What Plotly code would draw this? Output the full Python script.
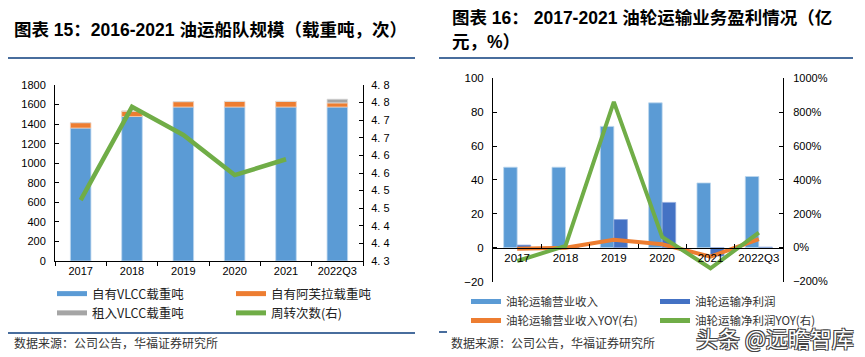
import plotly.graph_objects as go

# ---------------- data ----------------
cats = ["2017", "2018", "2019", "2020", "2021", "2022Q3"]
own_vlcc = [1360, 1478, 1575, 1575, 1575, 1575]
own_aframax = [55, 55, 55, 57, 57, 42]
chartered_vlcc = [0, 0, 0, 0, 0, 38]
turnover = [4.473, 4.738, 4.658, 4.544, 4.589, None]
right_ticks_vals = [4.30, 4.35, 4.40, 4.45, 4.50, 4.55, 4.60, 4.65, 4.70, 4.75, 4.80]
right_ticks_text = ["4. 3", "4. 4", "4. 4", "4. 5", "4. 5", "4. 6", "4. 6", "4. 7", "4. 7", "4. 8", "4. 8"]

revenue = [47.5, 47.5, 71.6, 85.5, 38.2, 42.0]
net_profit = [1.5, 0.4, 16.6, 26.7, -5.0, 0.3]
revenue_yoy = [-6, 0, 46, 20, -53, 50]
profit_yoy = [-79, 10, 861, 63, -122, 89]

FONT = "Liberation Sans, Arial, Noto Sans CJK SC, sans-serif"
CJK = "Noto Sans CJK SC, Liberation Sans, sans-serif"
BLUE = "#5B9BD5"
DBLUE = "#4472C4"
ORANGE = "#ED7D31"
GREY = "#A5A5A5"
GREEN = "#70AD47"
RULE = "#0B3D7D"

W, H = 865, 357
OFF = 8  # page body margin
def px(x): return (x - OFF) / W
def py(y): return 1 - (y - OFF) / H

fig = go.Figure()

# ---------- left panel ----------
base_orange = own_vlcc
base_grey = [a + b for a, b in zip(own_vlcc, own_aframax)]
fig.add_trace(go.Bar(x=cats, y=own_vlcc, width=0.4, marker=dict(color=BLUE, line=dict(color="#BDD7EE", width=0.8)),
                     xaxis="x", yaxis="y", showlegend=False))
fig.add_trace(go.Bar(x=cats, y=own_aframax, base=base_orange, width=0.4,
                     marker=dict(color=ORANGE, line=dict(color="#F8CBAD", width=0.8)),
                     xaxis="x", yaxis="y", showlegend=False))
fig.add_trace(go.Bar(x=cats, y=chartered_vlcc, base=base_grey, width=0.4,
                     marker=dict(color=GREY, line=dict(color="#DBDBDB", width=0.8)),
                     xaxis="x", yaxis="y", showlegend=False))
fig.add_trace(go.Scatter(x=cats, y=turnover, mode="lines", line=dict(color=GREEN, width=4.5),
                         xaxis="x", yaxis="y2", showlegend=False))

left_legend = [("自有VLCC载重吨", BLUE, "legend"), ("租入VLCC载重吨", GREY, "legend"),
               ("自有阿芙拉载重吨", ORANGE, "legend2"), ("周转次数(右)", GREEN, "legend2")]
for name, col, lg in left_legend:
    fig.add_trace(go.Scatter(x=[None], y=[None], mode="lines", name=name, line=dict(color=col, width=5),
                             xaxis="x", yaxis="y", legend=lg))

# ---------- right panel ----------
fig.add_trace(go.Bar(x=cats, y=revenue, width=0.28, offset=-0.28,
                     marker=dict(color=BLUE, line=dict(color="#BDD7EE", width=0.8)),
                     xaxis="x2", yaxis="y3", showlegend=False))
fig.add_trace(go.Bar(x=cats, y=net_profit, width=0.28, offset=0,
                     marker=dict(color=DBLUE, line=dict(color="#8FAADC", width=0.8)),
                     xaxis="x2", yaxis="y3", showlegend=False))
fig.add_trace(go.Scatter(x=cats, y=revenue_yoy, mode="lines", line=dict(color=ORANGE, width=4),
                         xaxis="x2", yaxis="y4", showlegend=False))
fig.add_trace(go.Scatter(x=cats, y=profit_yoy, mode="lines", line=dict(color=GREEN, width=4),
                         xaxis="x2", yaxis="y4", showlegend=False))

right_legend = [("油轮运输营业收入", BLUE, "legend3"), ("油轮运输营业收入YOY(右)", ORANGE, "legend3"),
                ("油轮运输净利润", DBLUE, "legend4"), ("油轮运输净利润YOY(右)", GREEN, "legend4")]
for name, col, lg in right_legend:
    fig.add_trace(go.Scatter(x=[None], y=[None], mode="lines", name=name, line=dict(color=col, width=5),
                             xaxis="x2", yaxis="y3", legend=lg))

# ---------- axes ----------
def ax(size):
    return dict(showgrid=False, zeroline=False, showline=True, linecolor="#000", linewidth=1,
                tickcolor="#000", ticklen=4, tickfont=dict(family=FONT, size=size, color="#000"),
                fixedrange=True, automargin=False)

ly0, ly1 = py(261), py(85)
ry0, ry1 = py(281.5), py(78.3)
zero_pos = ry0 + (0 - (-20)) / 120 * (ry1 - ry0)

def leg(x, y, size, color):
    return dict(orientation="v", x=px(x), y=py(y), xanchor="left", yanchor="top",
                font=dict(family=CJK, size=size, color=color), tracegroupgap=0, itemwidth=30,
                bgcolor="rgba(0,0,0,0)", borderwidth=0)

fig.update_layout(
    width=W, height=H, margin=dict(l=0, r=0, t=0, b=0, autoexpand=False),
    paper_bgcolor="white", plot_bgcolor="white", barmode="overlay",
    xaxis=dict(domain=[px(55), px(363)], anchor="y", type="category", tickson="boundaries",
               ticks="outside", tickangle=0, **ax(11)),
    yaxis=dict(domain=[ly0, ly1], anchor="x", range=[0, 1800], dtick=200, ticks="inside",
               ticklabelstandoff=6, **ax(11)),
    yaxis2=dict(overlaying="y", side="right", anchor="x", range=[4.3, 4.8],
                tickvals=right_ticks_vals, ticktext=right_ticks_text, ticks="inside",
                ticklabelstandoff=5, **ax(11)),
    xaxis2=dict(domain=[px(493), px(783)], anchor="free", position=zero_pos, type="category",
                tickson="boundaries", ticks="inside", tickangle=0, **ax(11.5)),
    yaxis3=dict(domain=[ry0, ry1], anchor="x2", range=[-20, 100], dtick=20, ticks="inside",
                ticklabelstandoff=6, **ax(11.5)),
    yaxis4=dict(overlaying="y3", side="right", anchor="x2", range=[-200, 1000], dtick=200,
                ticksuffix="%", ticks="inside", ticklabelstandoff=7, **ax(11)),
    legend=leg(52, 279, 12.5, "#222"),
    legend2=leg(231, 279, 12.5, "#222"),
    legend3=leg(466, 287, 11.5, "#333"),
    legend4=leg(655, 287, 11.5, "#333"),
)

# ---------- titles, rules, notes ----------
ann = []
ann.append(dict(text="<b>图表 15：2016-2021 油运船队规模（载重吨，次）</b>", x=px(12), y=py(30),
                xanchor="left", yanchor="middle", showarrow=False,
                font=dict(family=FONT, size=17.5, color="#000")))
ann.append(dict(text="<b>图表 16： 2017-2021 油轮运输业务盈利情况（亿</b>", x=px(450), y=py(18),
                xanchor="left", yanchor="middle", showarrow=False,
                font=dict(family=FONT, size=17.5, color="#000")))
ann.append(dict(text="<b>元，%）</b>", x=px(450), y=py(42),
                xanchor="left", yanchor="middle", showarrow=False,
                font=dict(family=FONT, size=17.5, color="#000")))
ann.append(dict(text="数据来源：公司公告，华福证券研究所", x=px(12), y=py(342),
                xanchor="left", yanchor="middle", showarrow=False,
                font=dict(family=CJK, size=12, color="#333")))
ann.append(dict(text="数据来源：公司公告，华福证券研究所", x=px(449), y=py(342),
                xanchor="left", yanchor="middle", showarrow=False,
                font=dict(family=CJK, size=12, color="#333")))
ann.append(dict(text="头条 @远瞻智库", x=px(856), y=py(337), xanchor="right", yanchor="middle",
                showarrow=False,
                font=dict(family=CJK, size=22, color="white",
                          shadow="-1px -1px 0 #444, 1px -1px 0 #444, -1px 1px 0 #444, 1px 1px 0 #444")))
for a in ann:
    a.update(xref="paper", yref="paper")
fig.update_layout(annotations=ann)

shapes = []
for (x0, x1, y) in [(3, 415, 58), (439, 853, 58), (3, 415, 333), (439, 447, 332)]:
    shapes.append(dict(type="line", xref="paper", yref="paper", x0=px(x0), x1=px(x1), y0=py(y), y1=py(y),
                       line=dict(color=RULE, width=1.5)))
fig.update_layout(shapes=shapes)

fig.write_html("out.html")
